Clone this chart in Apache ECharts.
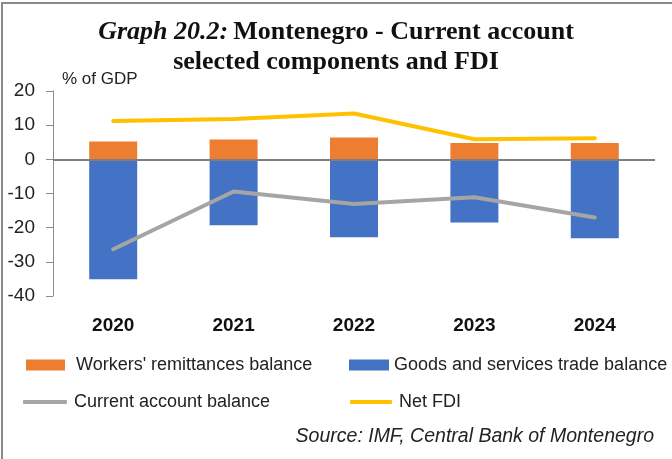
<!DOCTYPE html>
<html>
<head>
<meta charset="utf-8">
<script src="https://cdn.jsdelivr.net/npm/echarts@6/dist/echarts.min.js"></script>
<style>
  html, body { margin: 0; padding: 0; background: #fff; overflow: hidden; }
  #chart { position: absolute; left: 0; top: 0; width: 672px; height: 459px; }
  #frame { position: absolute; left: 1px; top: 2px; width: 669px; height: 455px;
           border-left: 2px solid #8a8a8a; border-top: 2px solid #8a8a8a; pointer-events: none; }
</style>
</head>
<body>
<div id="chart"></div>
<div id="frame"></div>
<script>
// 年份
var years = ['2020', '2021', '2022', '2023', '2024']
// 侨汇
var remittances = [5.2, 5.8, 6.4, 4.8, 4.8]
// 商品和服务贸易差额
var goodsServices = [-35.1, -19.3, -22.8, -18.5, -23.1]
// 经常账户差额
var currentAccount = [-26.3, -9.4, -13.1, -11.1, -17.0]
// 外国直接投资净额
var netFdi = [11.2, 11.8, 13.4, 5.9, 6.2]
// 纵轴刻度
var yTicks = [-40, -30, -20, -10, 0, 10, 20]

var sans = 'Liberation Sans, Arial, sans-serif'
var serif = 'Liberation Serif, Times New Roman, serif'

var chart = echarts.init(document.getElementById('chart'))

// 单个图例
function legendItem (name, left, top, w, h, gap, icon) {
  return {
    data: [{ name: name, icon: icon }],
    left: left,
    top: top,
    itemWidth: w,
    itemHeight: h,
    itemGap: 0,
    padding: 0,
    selectedMode: false,
    textStyle: {
      fontFamily: sans,
      fontSize: 18,
      color: '#222',
      padding: [0, 0, 0, gap]
    }
  }
}

chart.setOption({
  animation: false,
  title: [{
    text: '{i|Graph 20.2:} {b|Montenegro - Current account}\n{b|selected components and FDI}',
    left: 'center',
    top: 12,
    textStyle: {
      lineHeight: 30,
      rich: {
        i: { fontFamily: serif, fontStyle: 'italic', fontSize: 26, color: '#111', lineHeight: 30 },
        b: { fontFamily: serif, fontWeight: 'bold', fontSize: 26, color: '#111', lineHeight: 30 }
      }
    }
  }, {
    text: 'Source: IMF, Central Bank of Montenegro',
    right: 18,
    top: 427,
    padding: 0,
    textStyle: { fontFamily: sans, fontStyle: 'italic', fontWeight: 'normal', fontSize: 19.5, color: '#222' }
  }],
  legend: [
    legendItem("Workers' remittances balance", 26, 356, 39, 11, 6, 'rect'),
    legendItem('Goods and services trade balance', 349, 356, 40, 11, 0, 'rect'),
    legendItem('Current account balance', 23, 393, 44, 4, 2, 'roundRect'),
    legendItem('Net FDI', 350, 393, 42, 4, 2, 'roundRect')
  ],
  grid: {
    left: 53,
    right: 17,
    top: 91,
    bottom: 163
  },
  xAxis: {
    type: 'category',
    data: years,
    axisLine: { show: false, onZero: false },
    axisTick: { show: false },
    axisLabel: {
      margin: 20,
      fontFamily: sans,
      fontWeight: 'bold',
      fontSize: 19,
      color: '#111'
    }
  },
  yAxis: {
    type: 'value',
    min: yTicks[0],
    max: yTicks[yTicks.length - 1],
    interval: 10,
    name: '% of GDP',
    nameLocation: 'end',
    nameGap: 3,
    nameTextStyle: {
      fontFamily: sans,
      fontSize: 17,
      color: '#222',
      align: 'left',
      padding: [0, 0, 0, 9]
    },
    axisLine: { show: true, lineStyle: { color: '#8c8c8c', width: 1 } },
    axisTick: { show: true, length: 7, lineStyle: { color: '#8c8c8c' } },
    splitLine: { show: false },
    axisLabel: {
      margin: 18,
      fontFamily: sans,
      fontSize: 19,
      color: '#222'
    }
  },
  series: [{
    name: "Workers' remittances balance",
    type: 'bar',
    stack: 'ca',
    barWidth: 48,
    data: remittances,
    itemStyle: { color: '#ED7D31' },
    markLine: {
      silent: true,
      symbol: 'none',
      label: { show: false },
      lineStyle: { color: '#7f7f7f', width: 2, type: 'solid' },
      data: [{ yAxis: 0 }]
    }
  }, {
    name: 'Goods and services trade balance',
    type: 'bar',
    stack: 'ca',
    barWidth: 48,
    data: goodsServices,
    itemStyle: { color: '#4472C4' }
  }, {
    name: 'Current account balance',
    type: 'line',
    data: currentAccount,
    symbol: 'none',
    lineStyle: { color: '#A5A5A5', width: 4, cap: 'round' },
    itemStyle: { color: '#A5A5A5' },
    z: 5
  }, {
    name: 'Net FDI',
    type: 'line',
    data: netFdi,
    symbol: 'none',
    lineStyle: { color: '#FFC000', width: 4, cap: 'round' },
    itemStyle: { color: '#FFC000' },
    z: 5
  }]
})
</script>
</body>
</html>
